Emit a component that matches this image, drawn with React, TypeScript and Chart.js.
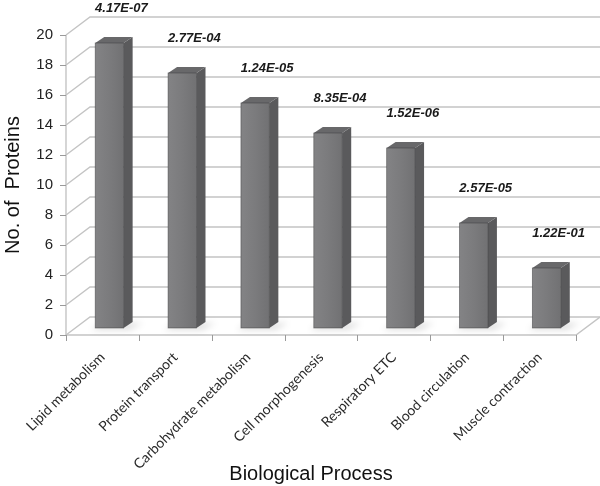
import React, { useEffect, useRef } from 'react';
import { Chart, registerables } from 'chart.js';

Chart.register(...registerables);

const categories = [
  'Lipid metabolism',
  'Protein transport',
  'Carbohydrate metabolism',
  'Cell morphogenesis',
  'Respiratory ETC',
  'Blood circulation',
  'Muscle contraction',
];
const proteinCounts = [19, 17, 15, 13, 12, 7, 4];
const pValues = ['4.17E-07', '2.77E-04', '1.24E-05', '8.35E-04', '1.52E-06', '2.57E-05', '1.22E-01'];
const xTitle = 'Biological Process';
const yMin = 0;
const yMax = 20;
const yStep = 2;

// 3D geometry (styling)
const DX = 24;
const DY = -18;
const BX = 7;
const BY = -7;
const TX = 9;
const TY = -6;

const threeD = {
  id: 'threeD',
  beforeDatasetsDraw(chart: any) {
    const { ctx, chartArea: a, scales } = chart;
    const x = scales.x;
    const y = scales.y;
    ctx.save();
    ctx.strokeStyle = '#c4c4c4';
    ctx.lineWidth = 1.4;
    y.ticks.forEach((t: any) => {
      const py = y.getPixelForValue(t.value);
      ctx.beginPath();
      ctx.moveTo(a.left, py);
      ctx.lineTo(a.left + DX, py + DY);
      ctx.lineTo(a.right + DX, py + DY);
      ctx.stroke();
    });
    const by = y.getPixelForValue(0);
    ctx.beginPath();
    ctx.moveTo(a.left, by);
    ctx.lineTo(a.right, by);
    ctx.lineTo(a.right + DX, by + DY);
    ctx.stroke();
    ctx.beginPath();
    ctx.moveTo(a.left, y.getPixelForValue(yMax));
    ctx.lineTo(a.left, by);
    ctx.stroke();
    // y tick marks
    ctx.strokeStyle = '#9a9a9a';
    ctx.lineWidth = 1;
    y.ticks.forEach((t: any) => {
      const py = Math.round(y.getPixelForValue(t.value)) + 0.5;
      ctx.beginPath();
      ctx.moveTo(a.left - 6, py);
      ctx.lineTo(a.left, py);
      ctx.stroke();
    });
    // x tick marks
    for (let i = 0; i <= categories.length; i++) {
      const px = Math.round(x.getPixelForValue(i - 0.5)) + 0.5;
      ctx.beginPath();
      ctx.moveTo(px, by);
      ctx.lineTo(px, by + 6);
      ctx.stroke();
    }
    ctx.restore();
  },
  afterDatasetsDraw(chart: any) {
    const { ctx } = chart;
    const meta = chart.getDatasetMeta(0);
    ctx.save();
    meta.data.forEach((el: any, i: number) => {
      const p = el.getProps(['x', 'y', 'base', 'width'], true);
      const x0 = p.x - p.width / 2 + BX;
      const x1 = p.x + p.width / 2 + BX;
      const t = p.y + BY;
      const b = p.base + BY;
      // shadow
      ctx.save();
      ctx.filter = 'blur(3px)';
      ctx.fillStyle = 'rgba(0,0,0,0.13)';
      ctx.beginPath();
      ctx.moveTo(x0 - 4, b + 2);
      ctx.lineTo(x1 + 6, b + 2);
      ctx.lineTo(x1 + TX + 10, b + TY + 1);
      ctx.lineTo(x0 + TX - 2, b + TY + 1);
      ctx.closePath();
      ctx.fill();
      ctx.restore();
      // front face
      const g = ctx.createLinearGradient(x0, 0, x1, 0);
      g.addColorStop(0, '#838385');
      g.addColorStop(0.5, '#7b7b7d');
      g.addColorStop(1, '#717173');
      ctx.fillStyle = g;
      ctx.fillRect(x0, t, x1 - x0, b - t);
      // side face
      ctx.fillStyle = '#5a5a5c';
      ctx.beginPath();
      ctx.moveTo(x1, t);
      ctx.lineTo(x1 + TX, t + TY);
      ctx.lineTo(x1 + TX, b + TY);
      ctx.lineTo(x1, b);
      ctx.closePath();
      ctx.fill();
      // top face
      ctx.fillStyle = '#68686a';
      ctx.beginPath();
      ctx.moveTo(x0, t);
      ctx.lineTo(x0 + TX, t + TY);
      ctx.lineTo(x1 + TX, t + TY);
      ctx.lineTo(x1, t);
      ctx.closePath();
      ctx.fill();
      // edges
      ctx.strokeStyle = 'rgba(60,60,62,0.6)';
      ctx.lineWidth = 0.8;
      ctx.strokeRect(x0, t, x1 - x0, b - t);
      // p-value label
      ctx.fillStyle = '#1a1a1a';
      ctx.font = 'italic bold 13px "Liberation Sans", Arial, sans-serif';
      ctx.textAlign = 'center';
      ctx.textBaseline = 'middle';
      ctx.fillText(pValues[i], p.x + 19, p.y - 42);
    });
    ctx.restore();
  },
  afterDraw(chart: any) {
    const { ctx, chartArea: a } = chart;
    ctx.save();
    ctx.fillStyle = '#111';
    ctx.font = '20px "Liberation Sans", Arial, sans-serif';
    ctx.textAlign = 'center';
    ctx.textBaseline = 'alphabetic';
    ctx.fillText(xTitle, (a.left + a.right) / 2 - 10, a.bottom + 145);
    ctx.restore();
  },
};

export default function App() {
  const ref = useRef<HTMLCanvasElement | null>(null);
  useEffect(() => {
    if (!ref.current) return;
    const chart = new Chart(ref.current, {
      type: 'bar',
      data: {
        labels: categories,
        datasets: [
          {
            data: proteinCounts,
            backgroundColor: 'rgba(0,0,0,0)',
            borderWidth: 0,
            barPercentage: 0.39,
            categoryPercentage: 1,
          },
        ],
      },
      options: {
        animation: false,
        responsive: true,
        maintainAspectRatio: false,
        layout: { padding: { top: 35, right: 24, left: 0, bottom: 0 } },
        plugins: {
          legend: { display: false },
          tooltip: { enabled: false },
        },
        scales: {
          x: {
            type: 'category',
            offset: true,
            grid: { display: false, drawTicks: false },
            border: { display: false },
            ticks: {
              autoSkip: false,
              maxRotation: 45,
              minRotation: 45,
              padding: 14,
              color: '#2a2a2a',
              font: { family: 'Lato, "Open Sans", sans-serif', size: 14 },
            },
            afterFit: (s: any) => {
              s.height = 151;
            },
          },
          y: {
            min: yMin,
            max: yMax,
            grid: { display: false, drawTicks: false },
            border: { display: false },
            ticks: {
              stepSize: yStep,
              padding: 13,
              color: '#222',
              font: { family: '"Liberation Sans", Arial, sans-serif', size: 15 },
            },
            title: {
              display: true,
              text: 'No. of  Proteins',
              color: '#111',
              font: { family: '"Liberation Sans", Arial, sans-serif', size: 20 },
              padding: { top: 1, bottom: 0 },
            },
            afterFit: (s: any) => {
              s.width = 66;
            },
          },
        },
      },
      plugins: [threeD],
    });
    return () => chart.destroy();
  }, []);
  return (
    <div style={{ position: 'fixed', left: 0, top: 0, width: 600, height: 486, background: '#fff' }}>
      <canvas ref={ref} />
    </div>
  );
}
